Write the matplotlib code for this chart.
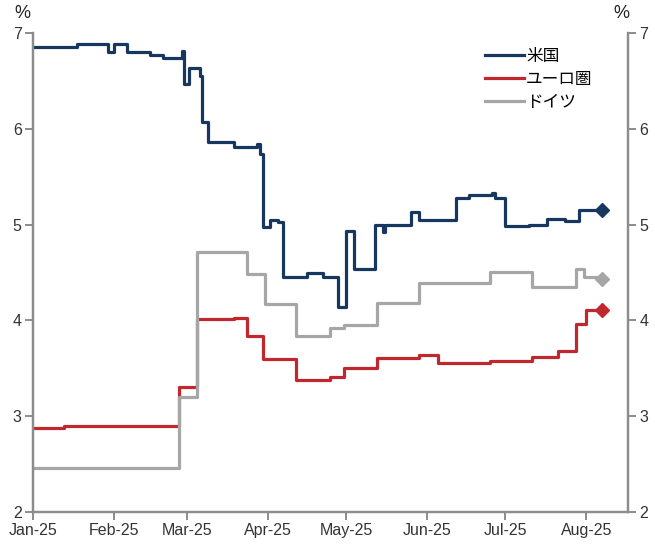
import matplotlib.pyplot as plt
import matplotlib.dates as mdates
import numpy as np

plt.rcParams['font.family'] = ['Liberation Sans', 'DejaVu Sans']

# step points: date the value starts, value (%)
us_dates = ['2025-01-01', '2025-01-18', '2025-01-30', '2025-02-01', '2025-02-06',
            '2025-02-15', '2025-02-20', '2025-02-27', '2025-02-28', '2025-03-02',
            '2025-03-06', '2025-03-07', '2025-03-09', '2025-03-19', '2025-03-28',
            '2025-03-29', '2025-03-30', '2025-04-02', '2025-04-05', '2025-04-07',
            '2025-04-16', '2025-04-22', '2025-04-28', '2025-05-01', '2025-05-04',
            '2025-05-12', '2025-05-15', '2025-05-16', '2025-05-26', '2025-05-29',
            '2025-06-12', '2025-06-17', '2025-06-26', '2025-06-27', '2025-07-01',
            '2025-07-10', '2025-07-17', '2025-07-24', '2025-07-29', '2025-08-07']
us_vals = [6.85, 6.89, 6.80, 6.88, 6.80,
           6.77, 6.74, 6.81, 6.47, 6.63,
           6.55, 6.07, 5.86, 5.81, 5.84,
           5.74, 4.97, 5.05, 5.03, 4.45,
           4.49, 4.45, 4.14, 4.93, 4.54,
           5.00, 4.92, 5.00, 5.13, 5.05,
           5.28, 5.31, 5.33, 5.28, 4.99,
           5.00, 5.06, 5.04, 5.15, 5.15]

eu_dates = ['2025-01-01', '2025-01-13', '2025-02-26', '2025-03-05', '2025-03-19',
            '2025-03-24', '2025-03-30', '2025-04-12', '2025-04-25', '2025-04-30',
            '2025-05-13', '2025-05-29', '2025-06-05', '2025-06-25', '2025-07-11',
            '2025-07-21', '2025-07-28', '2025-08-01', '2025-08-07']
eu_vals = [2.88, 2.90, 3.30, 4.01, 4.02,
           3.84, 3.60, 3.38, 3.41, 3.50,
           3.61, 3.64, 3.55, 3.58, 3.62,
           3.68, 3.96, 4.11, 4.11]

de_dates = ['2025-01-01', '2025-02-26', '2025-03-05', '2025-03-24', '2025-03-31',
            '2025-04-12', '2025-04-25', '2025-04-30', '2025-05-13', '2025-05-29',
            '2025-06-25', '2025-07-11', '2025-07-28', '2025-07-31', '2025-08-07']
de_vals = [2.46, 3.20, 4.71, 4.48, 4.17,
           3.84, 3.92, 3.95, 4.18, 4.39,
           4.51, 4.35, 4.54, 4.45, 4.43]

labels = ['米国', 'ユーロ圏', 'ドイツ']
colors = ['#17375e', '#c0282e', '#a6a6a6']

fig = plt.figure(figsize=(6.55, 5.46), dpi=100)
ax = fig.add_axes([0.050, 0.0623, 0.909, 0.8773])

series = [(us_dates, us_vals), (eu_dates, eu_vals), (de_dates, de_vals)]
for (d, v), lab, c in zip(series, labels, colors):
    d = np.array(d, dtype='datetime64[D]')
    ax.plot(d, v, drawstyle='steps-post', color=c, lw=2.3, label=lab,
            solid_joinstyle='round')
    ax.plot(d[-1:], v[-1:], marker='D', ms=7, color=c, ls='none')

ax.set_xlim(np.datetime64('2025-01-01'), np.datetime64('2025-08-17'))
ax.set_ylim(2, 7)
ax.set_yticks([2, 3, 4, 5, 6, 7])
ax.xaxis.set_major_locator(mdates.MonthLocator())
ax.xaxis.set_major_formatter(mdates.DateFormatter('%b-%y'))

ax2 = ax.twinx()
ax2.set_ylim(2, 7)
ax2.set_yticks([2, 3, 4, 5, 6, 7])

spine_c = '#8c8c8c'
for a in (ax, ax2):
    a.spines['top'].set_visible(False)
    for s in ('left', 'right', 'bottom'):
        a.spines[s].set_color(spine_c)
        a.spines[s].set_linewidth(1.6)
    a.tick_params(colors=spine_c, labelcolor='#333333', labelsize=11.5,
                  length=6, width=1.4, pad=2)

fig.text(22 / 655, 1 - 13 / 546, '%', fontsize=13, ha='center', va='center',
         color='#222222')
fig.text(621 / 655, 1 - 13 / 546, '%', fontsize=13, ha='center', va='center',
         color='#222222')

leg = ax.legend(loc='upper left', bbox_to_anchor=(0.735, 1.0), frameon=False,
                prop={'family': ['Noto Sans CJK JP'], 'size': 12},
                handlelength=2.3, handletextpad=0.15, labelspacing=0.35)

fig.savefig('out.png', dpi=100)
